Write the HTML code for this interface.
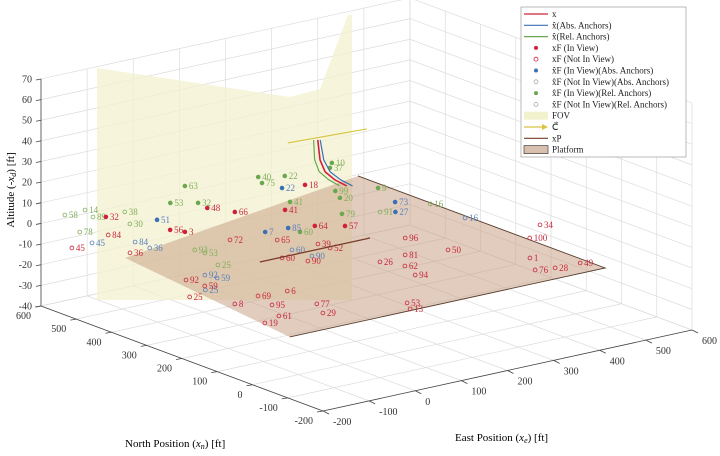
<!DOCTYPE html>
<html><head><meta charset="utf-8"><style>
html,body{margin:0;padding:0;background:#fff;}
svg{display:block;font-family:"Liberation Serif",serif;}
</style></head><body>
<svg id="chart" width="720" height="456" viewBox="0 0 720 456" xmlns="http://www.w3.org/2000/svg">
<g id="grid"></g>
<g id="fov"></g>
<g id="plat"></g>
<g id="axes"></g>
<g id="marks"></g>
<g id="traj"></g>
<text transform="translate(14,190) rotate(-90)" text-anchor="middle" font-size="11">Altitude (-<tspan font-style="italic">x<tspan font-size="8" dy="2">d</tspan></tspan><tspan dy="-2">) [ft]</tspan></text>
<text x="125" y="447" font-size="11">North Position (<tspan font-style="italic">x<tspan font-size="8" dy="2">n</tspan></tspan><tspan dy="-2">) [ft]</tspan></text>
<text x="455" y="441" font-size="11">East Position (<tspan font-style="italic">x<tspan font-size="8" dy="2">e</tspan></tspan><tspan dy="-2">) [ft]</tspan></text>
<g id="legend">
<rect x="521" y="7" width="165" height="150" fill="#fff" stroke="#aaa" stroke-width="0.8"/>
</g>
</svg>
<script>
const NS='http://www.w3.org/2000/svg';
// axis ticks
const eastTicks=[-200,-100,0,100,200,300,400,500,600];
const northTicks=[600,500,400,300,200,100,0,-100,-200];
const altTicks=[70,60,50,40,30,20,10,0,-10,-20,-30,-40];
// red x_F in view (filled)
const redInLabels=['32','3','56','41','64','57','48','66','18'];
const redInEast=[-12,41,28,258,240,281,159,182,377];
const redInNorth=[662,507,532,507,399,367,598,550,606];
const redInAlt=[-10,-10,-10,-10,-10,-10,-10,-10,-10];
// red x_F not in view (hollow)
const redOutLabels=['45','36','84','92','59','25','8','69','95','61','19','6','77','29','60','90','52','39','65','72','26','62','94','81','96','50','100','34','1','28','76','49','53','13'];
const redOutEast=[-172,-111,-75,-134,-130,-191,-155,-94,-108,-139,-184,-36,-43,-68,78,102,180,178,137,73,197,216,197,257,319,334,489,551,416,414,379,466,84,66];
const redOutNorth=[549,464,573,275,227,190,109,123,65,5,-14,116,23,-27,280,238,277,309,371,421,158,112,58,165,246,144,115,167,19,-55,-44,-58,-67,-99];
const redOutAlt=[-10,-10,-10,-10,-10,-10,-10,-10,-10,-10,-10,-10,-10,-10,-10,-10,-10,-10,-10,-10,-10,-10,-10,-10,-10,-10,-10,-10,-10,-10,-10,-10,-10,-10];
// blue abs anchors estimates
const blueLabels=['45','84','36','92','59','25','60','90','85','7','27','73','16','22','51'];
const blueEast=[-126,-64,-66,-90,-84,-144,121,126,196,150,401,437,474,334,47];
const blueNorth=[552,511,467,279,252,207,308,258,417,422,381,429,279,615,594];
const blueAlt=[-10,-10,-10,-10,-10,-10,-10,-10,-10,-10,-10,-10,-10,-10,-10];
const blueFilled=[0,0,0,0,0,0,0,0,1,1,1,1,0,1,1];
// green rel anchors estimates
const greenLabels=['58','14','89','38','78','30','63','53','32','40','22','75','41','99','10','37','20','9','91','16','93','53','25','60','79'];
const greenEast=[-61,-15,-30,32,-103,-5,209,127,165,342,382,325,294,396,494,473,377,465,380,478,-12,-9,-35,198,321];
const greenNorth=[714,717,675,666,617,603,727,661,632,693,670,660,540,545,683,661,507,514,397,383,410,385,314,386,428];
const greenAlt=[-10,-10,-10,-10,-10,-10,-10,-10,-10,-10,-10,-10,-10,-10,-10,-10,-10,-10,-10,-10,-10,-10,-10,-10,-10];
const greenFilled=[0,0,0,0,0,0,1,1,1,1,1,1,1,1,1,1,1,1,0,0,0,0,0,1,1];
// trajectories
const trueEast=[559,489,452,436,430];
const trueNorth=[808,710,647,598,557];
const trueAlt=[-10,-10,-10,-10,-10];
const absEast=[562,494,459,444,438];
const absNorth=[805,706,642,592,551];
const relEast=[553,482,445,428,421];
const relNorth=[812,716,655,606,566];
const platEast=[33,271];
const platNorth=[284,283];
const camEast=[507,666];
const camNorth=[825,809];
const platformEast=[-136,-201,482,482];
const platformNorth=[445,-107,-108,593];

// projection
const A=[41,306],BA=[282,105],CB=[369,-81],ZS=2.064;
function P(e,n,z){const a=(e+200)/800,b=(600-n)/800;return [A[0]+a*CB[0]+b*BA[0],A[1]+a*CB[1]+b*BA[1]-(z+40)*ZS];}
function mk(tag,at,parent){const el=document.createElementNS(NS,tag);for(const k in at)el.setAttribute(k,at[k]);parent.appendChild(el);return el;}

// grid
const grid=document.getElementById('grid');
const gs={stroke:'#dcdcdc','stroke-width':0.7,fill:'none'};
eastTicks.forEach(e=>{
 let p1=P(e,600,-40),p2=P(e,600,70);
 let l=mk('line',Object.assign({x1:p1[0],y1:p1[1],x2:p2[0],y2:p2[1]},gs),grid);
 
 
 p1=P(e,-200,-40);p2=P(e,600,-40);
 l=mk('line',Object.assign({x1:p1[0],y1:p1[1],x2:p2[0],y2:p2[1]},gs),grid);
 
 
});
northTicks.forEach(n=>{
 let p1=P(600,n,-40),p2=P(600,n,70);
 let l=mk('line',Object.assign({x1:p1[0],y1:p1[1],x2:p2[0],y2:p2[1]},gs),grid);
 
 
 p1=P(-200,n,-40);p2=P(600,n,-40);
 l=mk('line',Object.assign({x1:p1[0],y1:p1[1],x2:p2[0],y2:p2[1]},gs),grid);
 
 
});
altTicks.forEach(z=>{
 let p1=P(-200,600,z),p2=P(600,600,z),p3=P(600,-200,z);
 let l=mk('polyline',Object.assign({points:`${p1} ${p2} ${p3}`},gs),grid);
 
 
});

// FOV (decorative region)
const fov=document.getElementById('fov');
let f=mk('polygon',{points:'97,300 97,68 290,97 320,89 348,15 352,15 352,300',fill:'#f3f2cf','fill-opacity':0.75},fov);



// platform
const plat=document.getElementById('plat');
const pp=platformEast.map((e,i)=>P(e,platformNorth[i],-10));
let pg=mk('polygon',{points:pp.map(p=>p.join(',')).join(' '),fill:'#c9a286','fill-opacity':0.55,stroke:'none'},plat);


let pe=mk('polyline',{points:`${pp[1]} ${pp[2]} ${pp[3]}`,fill:'none',stroke:'#5a4030','stroke-width':0.9},plat);



// axes
const ax=document.getElementById('axes');
const as={stroke:'#444','stroke-width':0.8};
let z1=P(-200,600,-40),z2=P(-200,600,70);
let zl=mk('line',Object.assign({x1:z1[0],y1:z1[1],x2:z2[0],y2:z2[1]},as),ax);


altTicks.forEach(z=>{const p=P(-200,600,z);
 mk('line',Object.assign({x1:p[0]-5,y1:p[1]+1,x2:p[0],y2:p[1]},as),ax);
 const t=mk('text',{x:p[0]-9,y:p[1]+3.5,'text-anchor':'end','font-size':10,fill:'#333'},ax);t.textContent=z;
 
 });
let n1=P(-200,600,-40),n2=P(-200,-200,-40);
let nl=mk('line',Object.assign({x1:n1[0],y1:n1[1],x2:n2[0],y2:n2[1]},as),ax);


northTicks.forEach(n=>{const p=P(-200,n,-40);
 mk('line',Object.assign({x1:p[0],y1:p[1],x2:p[0]-6,y2:p[1]+1},as),ax);
 const t=mk('text',{x:p[0]-10,y:p[1]+13,'text-anchor':'end','font-size':10,fill:'#333'},ax);t.textContent=n;
 
 });
let e1=P(-200,-200,-40),e2=P(600,-200,-40);
let el2=mk('line',Object.assign({x1:e1[0],y1:e1[1],x2:e2[0],y2:e2[1]},as),ax);


eastTicks.forEach(e=>{const p=P(e,-200,-40);
 mk('line',Object.assign({x1:p[0],y1:p[1],x2:p[0]+6,y2:p[1]+3},as),ax);
 const t=mk('text',{x:p[0]+10,y:p[1]+14,'text-anchor':'start','font-size':10,fill:'#333'},ax);t.textContent=e;
 
 });

// points
const marks=document.getElementById('marks');
function group(labels,E,N,Z,color,labelColor,filledArr,name){
 labels.forEach((lab,i)=>{
  const p=P(E[i],N[i],Z[i]);
  const filled=filledArr?filledArr[i]:filledArr;
  const c=mk('circle',{cx:p[0],cy:p[1],r:1.9,fill:filled?color:'none',stroke:filled?color:labelColor,'stroke-width':0.8},marks);
  
  
  const t=mk('text',{x:p[0]+4,y:p[1]+3,'font-size':9,fill:labelColor},marks);
  t.textContent=lab;
  
  
 });
}
group(greenLabels,greenEast,greenNorth,greenAlt,'#6aa84f','#7fae5a',greenFilled,'rel-anchor');
group(blueLabels,blueEast,blueNorth,blueAlt,'#3b6fb6','#5b80bd',blueFilled,'abs-anchor');
group(redOutLabels,redOutEast,redOutNorth,redOutAlt,'#d0213a','#c8283c',redOutLabels.map(()=>0),'true-feature-out');
group(redInLabels,redInEast,redInNorth,redInAlt,'#d0213a','#c8283c',redInLabels.map(()=>1),'true-feature-in');

// trajectories
const traj=document.getElementById('traj');
function line(E,N,Z,col,w,name){
 const pts=E.map((e,i)=>P(e,N[i],Z[i]).join(',')).join(' ');
 const l=mk('polyline',{points:pts,fill:'none',stroke:col,'stroke-width':w,'stroke-linejoin':'round'},traj);
 
 
}
line(relEast,relNorth,trueAlt,'#6aa84f',1.2,'rel-anchor-trajectory');
line(absEast,absNorth,trueAlt,'#3b6fb6',1.2,'abs-anchor-trajectory');
line(trueEast,trueNorth,trueAlt,'#d0213a',1.6,'true-trajectory');
line(platEast,platNorth,[-10,-10],'#7a3b2a',1.3,'platform-trajectory');
line(camEast,camNorth,[-10,-10],'#d8c440',1.2,'camera-vector');

// legend
const lg=document.getElementById('legend');
const legItems=[
 ['line','#d0213a','x'],['line','#3b6fb6','x̂(Abs. Anchors)'],['line','#6aa84f','x̂(Rel. Anchors)'],
 ['dot','#d0213a','xF (In View)'],['ring','#d0213a','xF (Not In View)'],['dot','#3b6fb6','x̂F (In View)(Abs. Anchors)'],
 ['ring','#aaa','x̂F (Not In View)(Abs. Anchors)'],['dot','#6aa84f','x̂F (In View)(Rel. Anchors)'],['ring','#aaa','x̂F (Not In View)(Rel. Anchors)'],
 ['patch','#f3f2cf','FOV'],['arrow','#d8c440','C⃗'],['line','#7a3b2a','xP'],['patch2','#d8bfae','Platform']];
legItems.forEach((it,i)=>{
 const y=14+i*11.3;
 const g=mk('g',{},lg);
 
 
 const [k,c,txt]=it;
 if(k==='line')mk('line',{x1:524,y1:y,x2:548,y2:y,stroke:c,'stroke-width':1.2},g);
 if(k==='arrow'){mk('line',{x1:524,y1:y,x2:546,y2:y,stroke:c,'stroke-width':1.2},g);mk('polygon',{points:`542,${y-3} 548,${y} 542,${y+3}`,fill:c},g);}
 if(k==='dot')mk('circle',{cx:536,cy:y,r:2,fill:c},g);
 if(k==='ring')mk('circle',{cx:536,cy:y,r:2,fill:'none',stroke:c,'stroke-width':0.8},g);
 if(k==='patch')mk('rect',{x:524,y:y-4,width:24,height:8,fill:c},g);
 if(k==='patch2')mk('rect',{x:524,y:y-4,width:24,height:8,fill:c,stroke:'#555','stroke-width':0.8},g);
 const t=mk('text',{x:552,y:y+3,'font-size':9,fill:'#222'},g);
 t.textContent=txt;
});
</script>
</body></html>
